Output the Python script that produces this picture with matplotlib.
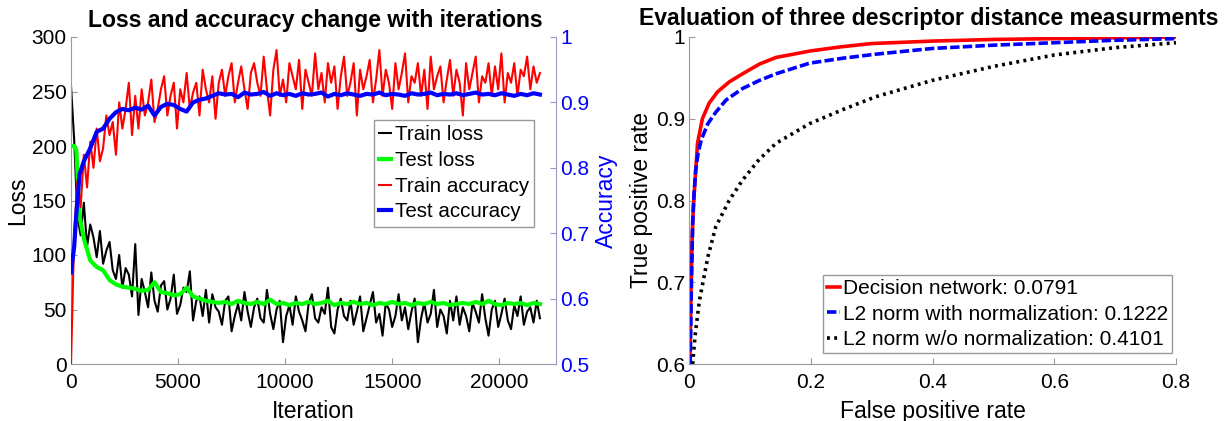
import numpy as np
import matplotlib
matplotlib.use("Agg")
import matplotlib.pyplot as plt

plt.rcParams['font.family'] = ['Liberation Sans', 'DejaVu Sans']

# ---------------- data: left panel ----------------
train_step = 150
train_loss = [255, 205, 135, 118, 148, 108, 128, 116, 98, 122, 92, 104, 112, 86, 78, 100,
              70, 88, 82, 62, 110,
              45, 78, 66, 52, 84, 58, 48, 72, 76, 50, 60, 82, 46, 54, 70, 66, 85, 40, 58,
              62, 44, 68, 38, 64, 52, 48,
              36, 58, 62, 30, 44, 55, 40, 66, 48, 34,
              52, 60, 42, 38, 68, 46, 32, 50, 58, 20,
              44, 54, 36, 62, 48, 40, 30, 56, 64, 42,
              38, 52, 46, 70, 34, 28, 50, 60, 44, 40,
              58, 36, 48, 62, 30, 42, 54, 66, 38, 46,
              26, 56, 50, 34, 44, 64, 40, 52, 32, 48,
              60, 20, 42, 56, 38, 46, 68, 34, 50, 44,
              28, 58, 40, 62, 36, 52, 44, 30, 56, 48,
              38, 64, 42, 26, 50, 58, 34, 46, 60, 40,
              32, 54, 44, 62, 36, 48, 52, 38, 58, 42]
train_acc = [0.50, 0.70, 0.78, 0.74, 0.82, 0.77, 0.84, 0.80, 0.86, 0.81, 0.83, 0.88, 0.85,
             0.87, 0.82, 0.90, 0.86, 0.89, 0.93, 0.85, 0.91,
             0.86, 0.92, 0.88, 0.90, 0.935, 0.87, 0.89, 0.92, 0.94, 0.88, 0.91, 0.93, 0.86,
             0.92, 0.90, 0.945, 0.89, 0.915, 0.93, 0.88, 0.95, 0.92, 0.90, 0.94, 0.875, 0.93,
             0.95, 0.91, 0.94, 0.96, 0.90, 0.93, 0.955, 0.92, 0.89, 0.945,
             0.96, 0.93, 0.91, 0.97, 0.92, 0.88, 0.95, 0.98, 0.91, 0.935,
             0.90, 0.96, 0.94, 0.92, 0.965, 0.89, 0.95, 0.93, 0.91, 0.975,
             0.92, 0.945, 0.90, 0.96, 0.93, 0.955, 0.89, 0.94, 0.97, 0.91,
             0.93, 0.96, 0.88, 0.95, 0.92, 0.94, 0.965, 0.90, 0.935, 0.98,
             0.91, 0.95, 0.93, 0.89, 0.96, 0.92, 0.945, 0.975, 0.90, 0.94,
             0.93, 0.96, 0.91, 0.95, 0.89, 0.97, 0.92, 0.94, 0.955, 0.90,
             0.935, 0.965, 0.91, 0.95, 0.93, 0.88, 0.96, 0.92, 0.945, 0.97,
             0.90, 0.94, 0.93, 0.96, 0.91, 0.955, 0.92, 0.975, 0.90, 0.945,
             0.93, 0.96, 0.91, 0.95, 0.94, 0.97, 0.92, 0.955, 0.93, 0.945]

test_early_iters = [0, 150, 250, 400, 600]
test_step = 300
test_loss = [200, 200, 196, 135, 115,
             95, 89, 86, 77, 73, 71, 70, 69, 67, 68, 75, 66, 65, 63, 64, 70,
             62, 60, 58, 57, 56, 57, 55, 58, 56, 55, 57, 55, 59, 55, 56, 54, 56, 55, 57, 55,
             56, 58, 54, 56, 55, 57, 55, 56, 54, 56, 55, 57, 55, 56, 54, 56, 55, 57, 55, 56,
             54, 55, 56, 55, 57, 55, 58, 55, 54, 56, 55, 56, 54, 56, 55]
test_acc = [0.64, 0.68, 0.73, 0.79, 0.81,
            0.83, 0.855, 0.86, 0.875, 0.885, 0.89, 0.888, 0.892, 0.889,
            0.895, 0.88, 0.893, 0.898, 0.896, 0.89, 0.886, 0.90, 0.904, 0.906, 0.91, 0.914,
            0.912, 0.913, 0.908, 0.915, 0.912, 0.913, 0.916, 0.91, 0.914, 0.911, 0.913, 0.91,
            0.914, 0.912, 0.913, 0.915, 0.909, 0.913, 0.911, 0.914, 0.912, 0.91, 0.913, 0.912,
            0.915, 0.911, 0.913, 0.912, 0.91, 0.914, 0.912, 0.913, 0.915, 0.911, 0.913, 0.912,
            0.914, 0.911, 0.913, 0.915, 0.912, 0.913, 0.911, 0.914, 0.912, 0.91, 0.913, 0.911,
            0.914, 0.912]

left_labels = ["Train loss", "Test loss", "Train accuracy", "Test accuracy"]

# ---------------- data: right panel ----------------
dn_fpr = [0.0015, 0.003, 0.005, 0.007, 0.01, 0.014, 0.022, 0.033, 0.047, 0.066, 0.088,
          0.116, 0.143, 0.2, 0.25, 0.3, 0.4, 0.5, 0.6, 0.7, 0.8]
dn_tpr = [0.6, 0.68, 0.75, 0.79, 0.825, 0.87, 0.9, 0.919, 0.933, 0.945, 0.955, 0.967,
          0.975, 0.983, 0.988, 0.992, 0.995, 0.997, 0.998, 0.999, 1.0]
l2n_fpr = [0.002, 0.004, 0.006, 0.008, 0.011, 0.015, 0.02, 0.031, 0.044, 0.061, 0.088,
           0.116, 0.143, 0.198, 0.252, 0.307, 0.4, 0.5, 0.6, 0.7, 0.8]
l2n_tpr = [0.6, 0.7, 0.77, 0.805, 0.837, 0.858, 0.874, 0.894, 0.908, 0.923, 0.937, 0.947,
           0.955, 0.968, 0.974, 0.979, 0.986, 0.99, 0.993, 0.996, 0.998]
l2_fpr = [0.006, 0.01, 0.017, 0.031, 0.044, 0.066, 0.088, 0.115, 0.143, 0.198, 0.252,
          0.307, 0.4, 0.5, 0.6, 0.7, 0.8]
l2_tpr = [0.6, 0.635, 0.677, 0.731, 0.768, 0.80, 0.825, 0.85, 0.87, 0.894, 0.911, 0.927,
          0.947, 0.964, 0.978, 0.987, 0.993]
right_labels = ["Decision network: 0.0791", "L2 norm with normalization: 0.1222",
                "L2 norm w/o normalization: 0.4101"]

# ---------------- figure ----------------
W, H = 1226, 421
fig = plt.figure(figsize=(W / 100, H / 100), dpi=100)
FS = 15
LFS = 16.5
spine_gray = '#9a9a9a'
blue_gray = '#9a9ac8'


def fx(px):
    return px / W


def fy(py):
    return 1 - py / H


# left panel
ax1 = fig.add_axes([fx(71), fy(364), fx(556) - fx(71), fy(37) - fy(364)])
ax2 = ax1.twinx()

tr_it = np.arange(len(train_loss)) * train_step
ta_it = np.arange(len(train_acc)) * train_step
te_it = np.concatenate([test_early_iters,
                        900 + test_step * np.arange(len(test_loss) - len(test_early_iters))])
tea_it = np.concatenate([test_early_iters,
                         900 + test_step * np.arange(len(test_acc) - len(test_early_iters))])
l1, = ax1.plot(tr_it, train_loss, color='black', lw=1.5)
l2, = ax1.plot(te_it, test_loss, color='#00ff00', lw=3)
l3, = ax2.plot(ta_it, train_acc, color='red', lw=1.5)
l4, = ax2.plot(tea_it, test_acc, color='blue', lw=3)

ax1.set_xlim(0, 22650)
ax1.set_ylim(0, 300)
ax2.set_ylim(0.5, 1)
ax1.set_xticks([0, 5000, 10000, 15000, 20000])
ax1.set_yticks(range(0, 301, 50))
ax2.set_yticks([0.5, 0.6, 0.7, 0.8, 0.9, 1.0])
ax2.set_yticklabels(["0.5", "0.6", "0.7", "0.8", "0.9", "1"])

for a in (ax1, ax2):
    a.spines['top'].set_visible(False)
ax2.spines['left'].set_visible(False)
ax2.spines['bottom'].set_visible(False)
ax1.spines['right'].set_visible(False)
ax1.spines['left'].set_color(spine_gray)
ax1.spines['bottom'].set_color(spine_gray)
ax2.spines['right'].set_color(blue_gray)
ax1.tick_params(axis='both', direction='in', length=4, color=spine_gray,
                labelsize=FS, labelcolor='black', pad=3)
ax1.tick_params(axis='x', pad=6.5)
ax2.tick_params(axis='y', direction='in', length=4, color=blue_gray,
                labelsize=FS, labelcolor='blue', pad=3)
ax1.set_xlabel("Iteration", fontsize=LFS, labelpad=6)
ax1.set_ylabel("Loss", fontsize=LFS, labelpad=2)
ax2.set_ylabel("Accuracy", fontsize=LFS, color='blue', labelpad=4)

leg = ax2.legend([l1, l2, l3, l4], left_labels, loc='upper left',
                 bbox_to_anchor=(fx(374), fy(120)), bbox_transform=fig.transFigure,
                 fontsize=14.8, handlelength=0.6, handletextpad=0.15, borderpad=0.25,
                 labelspacing=0.33, fancybox=False, framealpha=1, borderaxespad=0)
leg.get_frame().set_edgecolor('#999999')
leg.get_frame().set_linewidth(1.0)

fig.text(fx(315), fy(20), "Loss and accuracy change with iterations",
         ha='center', va='center', fontsize=16.6, fontweight='bold')

# right panel
ax3 = fig.add_axes([fx(689), fy(364), fx(1176) - fx(689), fy(37) - fy(364)])
r1, = ax3.plot(dn_fpr, dn_tpr, color='red', lw=2.6)
r2, = ax3.plot(l2n_fpr, l2n_tpr, color='blue', lw=2.6, dashes=(2.6, 0.9))
r3, = ax3.plot(l2_fpr, l2_tpr, color='black', lw=2.6, linestyle=(0, (0.8, 1.2)))
ax3.set_xlim(0, 0.8)
ax3.set_ylim(0.6, 1.0)
ax3.set_xticks([0, 0.2, 0.4, 0.6, 0.8])
ax3.set_xticklabels(["0", "0.2", "0.4", "0.6", "0.8"])
ax3.set_yticks([0.6, 0.7, 0.8, 0.9, 1.0])
ax3.set_yticklabels(["0.6", "0.7", "0.8", "0.9", "1"])
ax3.spines['top'].set_visible(False)
ax3.spines['right'].set_visible(False)
ax3.spines['left'].set_color(spine_gray)
ax3.spines['bottom'].set_color(spine_gray)
ax3.tick_params(axis='both', direction='in', length=4, color=spine_gray,
                labelsize=FS, pad=3)
ax3.tick_params(axis='x', pad=6.5)
ax3.set_xlabel("False positive rate", fontsize=LFS, labelpad=6)
ax3.set_ylabel("True positive rate", fontsize=LFS, labelpad=2)

leg2 = ax3.legend([r1, r2, r3], right_labels, loc='lower right',
                  bbox_to_anchor=(fx(1172), fy(353)), bbox_transform=fig.transFigure,
                  fontsize=15.0, handlelength=0.6, handletextpad=0.15, borderpad=0.2,
                  labelspacing=0.3, fancybox=False, framealpha=1, borderaxespad=0)
leg2.get_frame().set_edgecolor('#999999')
leg2.get_frame().set_linewidth(1.0)

fig.text(fx(929), fy(19), "Evaluation of three descriptor distance measurments",
         ha='center', va='center', fontsize=16.6, fontweight='bold')

fig.savefig("out.png", dpi=100)
